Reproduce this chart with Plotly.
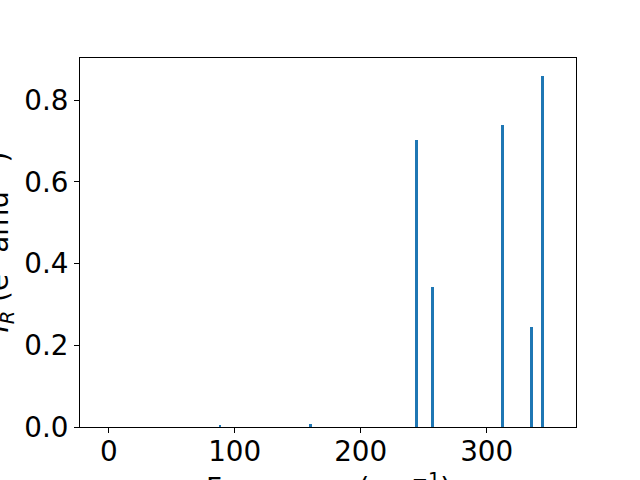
import plotly.graph_objects as go

freqs = [88.3, 160.2, 244.1, 256.8, 312.8, 335.5, 344.3]
intensities = [0.004, 0.007, 0.702, 0.342, 0.739, 0.244, 0.860]
x_ticks = [0, 100, 200, 300]
y_ticks = [0.0, 0.2, 0.4, 0.6, 0.8]

FONT = "DejaVu Sans"
FS = 27.8
W, H = 640, 480
L, R, T, B = 80, 64, 58, 53

fig = go.Figure(go.Bar(x=freqs, y=intensities, width=2.1,
                       marker=dict(color="#1f77b4", line=dict(width=0))))

fig.update_layout(
    width=W, height=H, margin=dict(l=L, r=R, t=T, b=B),
    plot_bgcolor="white", paper_bgcolor="white",
    font=dict(family=FONT, size=FS, color="black"),
    showlegend=False,
    bargap=0,
)
fig.update_xaxes(range=[-22.8, 370.9], tickvals=x_ticks, ticks="outside", ticklen=5,
                 tickcolor="black", showline=True, linecolor="black", linewidth=1,
                 mirror=True, showgrid=False, zeroline=False, automargin=False,
                 ticklabelstandoff=-5,
                 tickfont=dict(family=FONT, size=FS))
fig.update_yaxes(range=[0, 0.903], tickvals=y_ticks, ticktext=[f"{v:.1f}" for v in y_ticks],
                 ticks="outside", ticklen=5, tickcolor="black", showline=True,
                 linecolor="black", linewidth=1, mirror=True, showgrid=False,
                 zeroline=False, automargin=False, tickfont=dict(family=FONT, size=FS))

pw = W - L - R
ph = H - T - B
fig.add_annotation(text="Frequency (cm<sup>−1</sup>)", xref="paper", yref="paper",
                   x=0.5, y=-(466 - (H - B)) / ph, xanchor="center", yanchor="top",
                   showarrow=False, font=dict(family=FONT, size=FS))
fig.add_annotation(text="<i>I</i><sub><i>R</i></sub> (e<sup>2</sup> amu<sup>−1</sup>)",
                   xref="paper", yref="paper", x=(-1 - L) / pw, y=0.5,
                   xanchor="center", yanchor="middle", textangle=-90,
                   showarrow=False, font=dict(family=FONT, size=FS))

fig.write_html("out.html", config={"displayModeBar": False},
               post_script="document.body.style.margin='0';document.body.style.overflow='hidden';")
